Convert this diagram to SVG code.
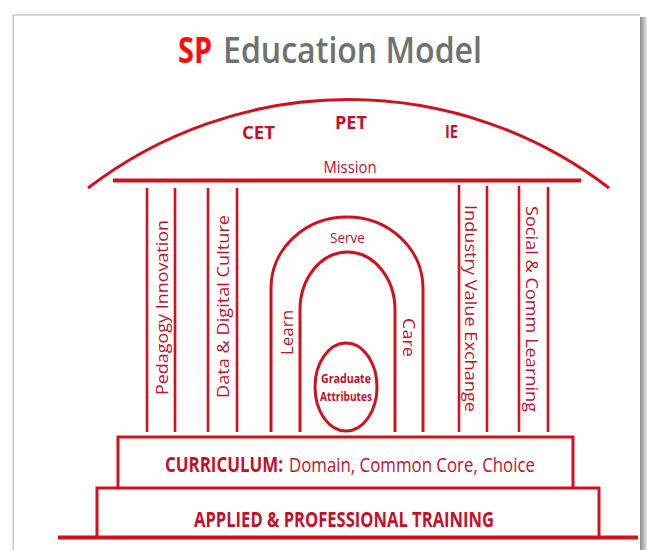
<svg xmlns="http://www.w3.org/2000/svg" width="647" height="550" viewBox="0 0 647 550">
<defs>
<linearGradient id="shR" x1="0" y1="0" x2="1" y2="0">
<stop offset="0" stop-color="#8a8a8a"/><stop offset="1" stop-color="#e6e6e6"/>
</linearGradient>
<style>
.ln{stroke:#d0121e;fill:none;stroke-width:3}
.pl{stroke:#d0121e;fill:none;stroke-width:2.6}
.t{font-family:"Open Sans","Liberation Sans",sans-serif;fill:#c4102a}
.b{font-weight:bold}
</style>
</defs>
<rect x="0" y="0" width="647" height="550" fill="#ffffff"/>
<!-- slide frame -->
<rect x="640" y="17" width="7" height="533" fill="url(#shR)"/>
<line x1="13" y1="15" x2="640" y2="15" stroke="#d8d8d8" stroke-width="2"/>
<line x1="13.5" y1="15" x2="13.5" y2="550" stroke="#c8c8c8" stroke-width="2"/>
<rect x="14" y="16" width="626" height="534" fill="#ffffff"/>

<g id="title">
<text x="178" y="63" font-family="'Open Sans','Liberation Sans',sans-serif" font-size="36" font-weight="bold" fill="#ff0a0a" textLength="34" lengthAdjust="spacingAndGlyphs">SP</text>
<text x="223" y="63" font-family="'Open Sans','Liberation Sans',sans-serif" font-size="36" font-weight="600" fill="#717171" textLength="259" lengthAdjust="spacingAndGlyphs">Education Model</text>
</g>

<g id="roof">
<path class="ln" d="M88 188 A428 428 0 0 1 609 188"/>
<text class="t b" x="242" y="139" font-size="18" textLength="33" lengthAdjust="spacingAndGlyphs">CET</text>
<text class="t b" x="335" y="129" font-size="18" textLength="32" lengthAdjust="spacingAndGlyphs">PET</text>
<text class="t b" x="445" y="138" font-size="18" textLength="13" lengthAdjust="spacingAndGlyphs">IE</text>
</g>

<g id="mission">
<text class="t" x="350" y="173" font-size="16" text-anchor="middle" textLength="53" lengthAdjust="spacingAndGlyphs">Mission</text>
<line x1="113" y1="180.5" x2="581" y2="180.5" stroke="#d0121e" stroke-width="4"/>
</g>

<g id="connectors">
<line class="pl" x1="147" y1="188" x2="147" y2="432"/>
<line class="pl" x1="175" y1="188" x2="175" y2="432"/>
<line class="pl" x1="208" y1="188" x2="208" y2="432"/>
<line class="pl" x1="237" y1="188" x2="237" y2="432"/>
<line class="pl" x1="459" y1="185" x2="459" y2="432"/>
<line class="pl" x1="487" y1="186" x2="487" y2="432"/>
<line class="pl" x1="519" y1="186" x2="519" y2="432"/>
<line class="pl" x1="548" y1="187" x2="548" y2="432"/>
</g>

<g id="pillar-pedagogy">
<text class="t" transform="translate(168 307.5) rotate(-90)" font-size="16.5" text-anchor="middle" textLength="175" lengthAdjust="spacingAndGlyphs">Pedagogy Innovation</text>
</g>
<g id="pillar-data">
<text class="t" transform="translate(229 306.5) rotate(-90)" font-size="16.5" text-anchor="middle" textLength="183" lengthAdjust="spacingAndGlyphs">Data &amp; Digital Culture</text>
</g>
<g id="pillar-industry">
<text class="t" transform="translate(465 308.5) rotate(90)" font-size="16.5" text-anchor="middle" textLength="207" lengthAdjust="spacingAndGlyphs">Industry Value Exchange</text>
</g>
<g id="pillar-social">
<text class="t" transform="translate(526 309) rotate(90)" font-size="16.5" text-anchor="middle" textLength="206" lengthAdjust="spacingAndGlyphs">Social &amp; Comm Learning</text>
</g>

<g id="arch-outer">
<path class="ln" d="M271 432 V288 A76 71 0 0 1 423 288 V432"/>
<text class="t" x="347.5" y="243" font-size="15" text-anchor="middle" textLength="35" lengthAdjust="spacingAndGlyphs">Serve</text>
<text class="t" transform="translate(293 332.5) rotate(-90)" font-size="16" text-anchor="middle" textLength="45" lengthAdjust="spacingAndGlyphs">Learn</text>
<text class="t" transform="translate(403 337.5) rotate(90)" font-size="16" text-anchor="middle" textLength="39" lengthAdjust="spacingAndGlyphs">Care</text>
</g>
<g id="arch-inner">
<path class="ln" d="M300 432 V310 A47.5 58 0 0 1 395 310 V432"/>
</g>

<g id="graduate-attributes">
<ellipse class="ln" cx="346" cy="387" rx="31" ry="44"/>
<text class="t b" x="346" y="383" font-size="13" text-anchor="middle" textLength="50" lengthAdjust="spacingAndGlyphs">Graduate</text>
<text class="t b" x="346" y="401" font-size="13" text-anchor="middle" textLength="52" lengthAdjust="spacingAndGlyphs">Attributes</text>
</g>

<g id="curriculum">
<path class="ln" d="M118 488 V437 H573 V488"/>
<text class="t b" transform="translate(165 472) scale(0.825 1)" font-size="20.5">CURRICULUM:</text>
<text class="t" x="289" y="472" font-size="20.5" textLength="246" lengthAdjust="spacingAndGlyphs">Domain, Common Core, Choice</text>
</g>

<g id="applied-training">
<path class="ln" d="M97 538 V488 H599 V538"/>
<text class="t b" x="194" y="527" font-size="20.5" textLength="300" lengthAdjust="spacingAndGlyphs">APPLIED &amp; PROFESSIONAL TRAINING</text>
</g>

<g id="ground">
<line x1="58" y1="537.5" x2="638" y2="537.5" stroke="#d0121e" stroke-width="4"/>
</g>
</svg>
